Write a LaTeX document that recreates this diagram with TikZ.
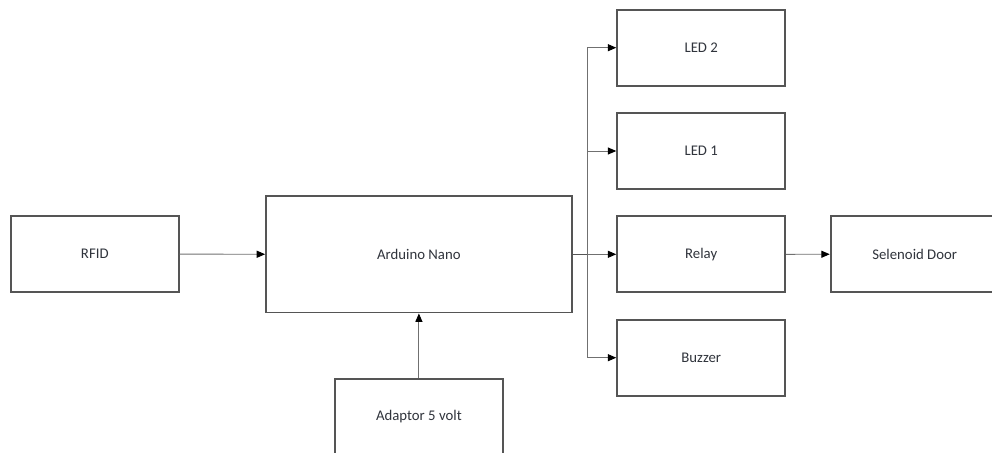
\documentclass[tikz,border=0pt]{standalone}
\usepackage{fontspec}
\setmainfont{Carlito}
\usepackage{xcolor}
\usepackage{tikz}
\usetikzlibrary{positioning,arrows.meta}

\definecolor{boxline}{HTML}{555555}
\definecolor{wireline}{HTML}{707070}
\definecolor{labeltext}{HTML}{30343C}

\tikzset{
  block/.style={draw=boxline, line width=1.3pt, fill=white, inner sep=0pt,
    minimum width=4.2cm, minimum height=1.9cm, text=labeltext,
    font=\fontsize{10.5}{12}\selectfont},
  wire/.style={draw=wireline, line width=0.7pt,
    -{Triangle[length=6pt,width=5pt,color=black]}}
}

\begin{document}
\begin{tikzpicture}[x=0.025cm, y=-0.025cm]
            \useasboundingbox (0,0) rectangle (992,453);
            \clip (0,0) rectangle (992,453);

            \node (rfid) at (94.8,254.2) [block] {RFID};
            \node (nano) at (418.9,254.3) [block, minimum width=7.64cm, minimum height=2.91cm] {Arduino Nano};
            \node (adaptor) at (418.9,416.7) [block] {Adaptor 5 volt};
            \node (led2) at (701.2,47.7) [block] {LED 2};
            \node (led1) at (701.2,151) [block] {LED 1};
            \node (relay) at (701.2,254.3) [block] {Relay};
            \node (buzzer) at (701.2,357.7) [block] {Buzzer};
            \node (door) at (914.7,254.2) [block] {Selenoid Door};
            \coordinate (bus) at (587.3,254.3);

            \draw[wire] (rfid) -- (nano);
            \draw[wire] (adaptor) -- (nano);
            \draw[draw=boxline, line width=1.1pt] (nano.east) -- (bus);
            \draw[wire] (bus) |- (led2);
            \draw[wire] (bus) |- (led1);
            \draw[wire] (bus) -- (relay);
            \draw[wire] (bus) |- (buzzer);
            \draw[wire] (relay) -- (door);
        \end{tikzpicture}
\end{document}
